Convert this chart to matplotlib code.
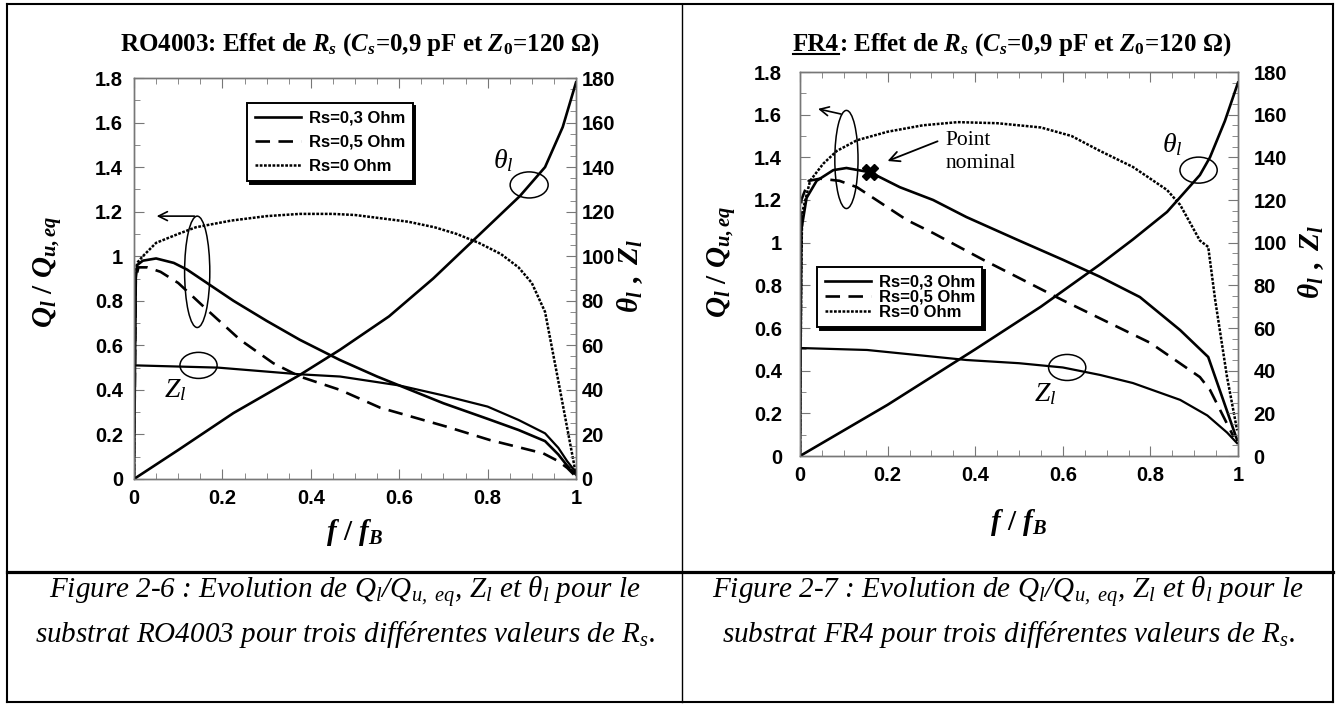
import matplotlib
matplotlib.use('Agg')
import matplotlib.pyplot as plt
from matplotlib.patches import Ellipse
from matplotlib.lines import Line2D
from matplotlib.ticker import MultipleLocator, FuncFormatter

plt.rcParams['font.family'] = ['Liberation Sans', 'DejaVu Sans']
plt.rcParams['font.weight'] = 'bold'
plt.rcParams['mathtext.fontset'] = 'custom'
plt.rcParams['mathtext.rm'] = 'Liberation Serif:weight=bold'
plt.rcParams['mathtext.it'] = 'Liberation Serif:italic:weight=bold'
plt.rcParams['mathtext.bf'] = 'Liberation Serif:weight=bold'
plt.rcParams['mathtext.sf'] = 'Liberation Serif:italic:weight=normal'

# ---------------- data : RO4003 (left) ----------------
L_x03 = [0, 0.004, 0.007, 0.02, 0.05, 0.09, 0.12, 0.165, 0.225, 0.3, 0.375, 0.466, 0.55, 0.6, 0.7, 0.8, 0.87, 0.93, 0.96, 0.98, 1.0]
L_q03 = [0, 0.9, 0.96, 0.98, 0.99, 0.97, 0.94, 0.88, 0.80, 0.71, 0.625, 0.534, 0.46, 0.42, 0.34, 0.27, 0.22, 0.17, 0.11, 0.06, 0.02]
L_x05 = [0, 0.004, 0.01, 0.03, 0.06, 0.1, 0.165, 0.24, 0.315, 0.375, 0.466, 0.557, 0.707, 0.805, 0.926, 0.96, 0.98, 0.995]
L_q05 = [0, 0.9, 0.95, 0.95, 0.93, 0.88, 0.76, 0.625, 0.52, 0.46, 0.40, 0.32, 0.235, 0.175, 0.115, 0.08, 0.05, 0.02]
L_x0 = [0, 0.003, 0.007, 0.02, 0.05, 0.1, 0.14, 0.22, 0.3, 0.375, 0.45, 0.5, 0.56, 0.62, 0.68, 0.73, 0.78, 0.83, 0.87, 0.9, 0.93, 0.96, 0.98, 1.0]
L_q0 = [0, 0.9, 0.97, 1.0, 1.06, 1.1, 1.13, 1.16, 1.18, 1.19, 1.19, 1.185, 1.17, 1.155, 1.13, 1.1, 1.06, 1.01, 0.95, 0.88, 0.75, 0.44, 0.23, 0.02]
L_xth = [0, 0.1, 0.225, 0.375, 0.466, 0.577, 0.677, 0.783, 0.873, 0.93, 0.97, 1.0]
L_th = [0, 13, 29.6, 46.7, 58, 73, 90, 110, 127, 140, 158, 178]
L_xz = [0.003, 0.19, 0.375, 0.466, 0.6, 0.7, 0.8, 0.87, 0.93, 0.96, 0.98, 1.0]
L_z = [51, 50, 47, 46, 42, 37.5, 32.5, 26.5, 20.5, 14, 8, 3]

# ---------------- data : FR4 (right) ----------------
R_x03 = [0, 0.003, 0.015, 0.038, 0.076, 0.106, 0.16, 0.228, 0.304, 0.38, 0.5, 0.6, 0.685, 0.776, 0.868, 0.932, 0.998]
R_q03 = [0, 1.06, 1.21, 1.29, 1.34, 1.35, 1.33, 1.26, 1.20, 1.12, 1.01, 0.92, 0.84, 0.745, 0.59, 0.464, 0.075]
R_x05 = [0, 0.003, 0.02, 0.046, 0.09, 0.13, 0.167, 0.244, 0.304, 0.418, 0.495, 0.6, 0.70, 0.80, 0.913, 0.936, 0.99]
R_q05 = [0, 1.2, 1.29, 1.30, 1.29, 1.26, 1.21, 1.106, 1.045, 0.92, 0.84, 0.73, 0.63, 0.53, 0.37, 0.31, 0.09]
R_x0 = [0, 0.003, 0.005, 0.023, 0.053, 0.084, 0.13, 0.2, 0.28, 0.36, 0.45, 0.55, 0.62, 0.685, 0.76, 0.838, 0.868, 0.913, 0.932, 0.948, 0.975, 0.998]
R_q0 = [0, 0.9, 1.14, 1.29, 1.37, 1.43, 1.48, 1.52, 1.55, 1.565, 1.56, 1.54, 1.5, 1.43, 1.355, 1.247, 1.177, 1.01, 0.98, 0.73, 0.37, 0.12]
R_xth = [0, 0.2, 0.4, 0.55, 0.685, 0.76, 0.838, 0.913, 0.936, 0.97, 1.0]
R_th = [0, 24, 50, 70, 89.8, 101.5, 114.4, 131.7, 140, 157, 175]
R_xz = [0.003, 0.153, 0.38, 0.5, 0.6, 0.685, 0.76, 0.868, 0.93, 0.975, 0.998]
R_z = [50.6, 49.7, 45, 43.5, 41.5, 38, 34.2, 26.3, 19, 11, 6]
R_nominal = (0.16, 1.33)

legend_labels = ['Rs=0,3 Ohm', 'Rs=0,5 Ohm', 'Rs=0 Ohm']

W, H = 1338, 704
fig = plt.figure(figsize=(W / 100, H / 100), dpi=100)


def pxbox(x0, y0, x1, y1):
    return [x0 / W, 1 - y1 / H, (x1 - x0) / W, (y1 - y0) / H]


LW = 1.9
DASH = (0, (5.5, 3.2))
DOT = (0, (1.1, 0.6))
GRAY = '#777777'
TICKSIZE = 14.5
fmt = FuncFormatter(lambda v, p: f'{v:g}')


def panel(box, x03, q03, x05, q05, x0, q0, xth, th, xz, z, leg_anchor, leg_spacing, lpad, rpad):
    ax = fig.add_axes(pxbox(*box))
    ax.set_xlim(0, 1)
    ax.set_ylim(0, 1.8)
    ax2 = ax.twinx()
    ax2.set_ylim(0, 180)
    ax.xaxis.set_major_locator(MultipleLocator(0.2))
    ax.xaxis.set_minor_locator(MultipleLocator(0.05))
    ax.yaxis.set_major_locator(MultipleLocator(0.2))
    ax.yaxis.set_minor_locator(MultipleLocator(0.1))
    ax2.yaxis.set_major_locator(MultipleLocator(20))
    ax2.yaxis.set_minor_locator(MultipleLocator(5))
    ax.xaxis.set_major_formatter(fmt)
    ax.yaxis.set_major_formatter(fmt)
    ax2.yaxis.set_major_formatter(fmt)
    ax.tick_params(which='both', direction='in', top=True, right=False, color=GRAY,
                   labelsize=TICKSIZE, labelcolor='k')
    ax.tick_params(axis='y', pad=lpad)
    ax.tick_params(axis='x', pad=7)
    ax2.tick_params(which='both', direction='in', color=GRAY, labelsize=TICKSIZE,
                    labelcolor='k', pad=rpad)
    for a in (ax, ax2):
        a.tick_params(which='major', length=7)
        a.tick_params(which='minor', length=4)
        for s in a.spines.values():
            s.set_color(GRAY)
            s.set_linewidth(1.0)
    ax.plot(x03, q03, color='k', lw=LW)
    ax.plot(x05, q05, color='k', lw=LW, ls=DASH)
    ax.plot(x0, q0, color='k', lw=1.8, ls=DOT)
    ax2.plot(xth, th, color='k', lw=LW)
    ax2.plot(xz, z, color='k', lw=1.6)
    handles = [Line2D([], [], color='k', lw=LW),
               Line2D([], [], color='k', lw=LW, ls=DASH),
               Line2D([], [], color='k', lw=1.8, ls=DOT)]
    leg = ax2.legend(handles, legend_labels, loc='upper left', bbox_to_anchor=leg_anchor,
                     borderaxespad=0, fancybox=False, edgecolor='k', framealpha=1,
                     shadow={'color': 'k', 'alpha': 1},
                     prop=dict(family='Liberation Sans', weight='bold', size=12),
                     handlelength=2.8, handletextpad=0.45, labelspacing=leg_spacing,
                     borderpad=0.45)
    leg.get_frame().set_linewidth(1.4)
    return ax, ax2


ital = dict(family='Liberation Serif', style='italic', weight='normal')

# ---- left panel ----
axL, axL2 = panel((134, 78, 576, 479), L_x03, L_q03, L_x05, L_q05, L_x0, L_q0,
                  L_xth, L_th, L_xz, L_z, (0.256, 0.938), 0.55, 8, 4)
axL.add_patch(Ellipse((0.143, 0.93), 0.057, 0.5, fill=False, ec='k', lw=1.1))
axL.annotate('', xy=(0.045, 1.18), xytext=(0.143, 1.18),
             arrowprops=dict(arrowstyle='->', color='k', lw=1.2, mutation_scale=16))
axL.add_patch(Ellipse((0.146, 0.51), 0.084, 0.117, fill=False, ec='k', lw=1.1))
axL.text(0.093, 0.40, r'Z$_{\mathsf{l}}$', ha='center', va='center', size=20, **ital)
axL.add_patch(Ellipse((0.894, 1.32), 0.086, 0.117, fill=False, ec='k', lw=1.1))
axL.text(0.835, 1.43, r'θ$_{\mathsf{l}}$', ha='center', va='center', size=20, **ital)

# ---- right panel ----
axR, axR2 = panel((800, 72, 1238, 456), R_x03, R_q03, R_x05, R_q05, R_x0, R_q0,
                  R_xth, R_th, R_xz, R_z, (0.039, 0.492), 0.0, 13, 11)
axR.plot(*R_nominal, marker='X', ms=11, color='k', mec='k')
axR.annotate('', xy=(0.194, 1.378), xytext=(0.32, 1.48),
             arrowprops=dict(arrowstyle='->', color='k', lw=1.3, mutation_scale=18))
axR.text(0.333, 1.477, 'Point', ha='left', va='center', family='Liberation Serif',
         weight='normal', size=15.5)
axR.text(0.333, 1.369, 'nominal', ha='left', va='center', family='Liberation Serif',
         weight='normal', size=15.5)
axR.add_patch(Ellipse((0.106, 1.39), 0.053, 0.46, fill=False, ec='k', lw=1.1))
axR.annotate('', xy=(0.035, 1.63), xytext=(0.1, 1.6),
             arrowprops=dict(arrowstyle='->', color='k', lw=1.2, mutation_scale=16))
axR.add_patch(Ellipse((0.61, 0.415), 0.085, 0.122, fill=False, ec='k', lw=1.1))
axR.text(0.56, 0.29, r'Z$_{\mathsf{l}}$', ha='center', va='center', size=20, **ital)
axR.add_patch(Ellipse((0.91, 1.34), 0.085, 0.122, fill=False, ec='k', lw=1.1))
axR.text(0.85, 1.46, r'θ$_{\mathsf{l}}$', ha='center', va='center', size=20, **ital)

# ---- axis labels ----
LBL = 21
fig.text(47 / W, 1 - 272 / H, r'$Q_l\ /\ Q_{u,eq}$', rotation=90, ha='center', va='center', size=LBL)
fig.text(630 / W, 1 - 276 / H, r'$\theta_l\ ,\ Z_l$', rotation=90, ha='center', va='center', size=LBL)
fig.text(355 / W, 1 - 533 / H, r'$f\ /\ f_B$', ha='center', va='center', size=LBL)
fig.text(722 / W, 1 - 262 / H, r'$Q_l\ /\ Q_{u,eq}$', rotation=90, ha='center', va='center', size=LBL)
fig.text(1311 / W, 1 - 262 / H, r'$\theta_l\ ,\ Z_l$', rotation=90, ha='center', va='center', size=LBL)
fig.text(1019 / W, 1 - 523 / H, r'$f\ /\ f_B$', ha='center', va='center', size=LBL)

# ---- titles ----
tprops = dict(family='Liberation Serif', weight='bold', size=18)
fig.text(360 / W, 1 - 51 / H, r'RO4003: Effet de $R_s$ ($C_s$=0,9 pF et $Z_0$=120 Ω)',
         ha='center', va='baseline', **tprops)
fig.canvas.draw()
rend = fig.canvas.get_renderer()
p1 = 'FR4'
p2 = r': Effet de $R_s$ ($C_s$=0,9 pF et $Z_0$=120 Ω)'
t1 = fig.text(0, 0, p1, **tprops)
t2 = fig.text(0, 0, p2, **tprops)
w1 = t1.get_window_extent(rend).width
w2 = t2.get_window_extent(rend).width
t1.remove()
t2.remove()
xs = 1012 - (w1 + w2) / 2
fig.text(xs / W, 1 - 51 / H, p1, ha='left', va='baseline', **tprops)
fig.text((xs + w1) / W, 1 - 51 / H, p2, ha='left', va='baseline', **tprops)
fig.add_artist(Line2D([xs / W, (xs + w1) / W], [1 - 54 / H, 1 - 54 / H], color='k', lw=1.5))

# ---- captions ----
cap = dict(ha='center', va='center', size=21, **ital)
fig.text(345 / W, 1 - 592 / H,
         r'Figure 2-6 : Evolution de Q$_{\mathsf{l}}$/Q$_{\mathsf{u,\ eq}}$, Z$_{\mathsf{l}}$ et θ$_{\mathsf{l}}$ pour le', **cap)
fig.text(345 / W, 1 - 634 / H,
         r'substrat RO4003 pour trois différentes valeurs de R$_{\mathsf{s}}$.', **cap)
fig.text(1008 / W, 1 - 592 / H,
         r'Figure 2-7 : Evolution de Q$_{\mathsf{l}}$/Q$_{\mathsf{u,\ eq}}$, Z$_{\mathsf{l}}$ et θ$_{\mathsf{l}}$ pour le', **cap)
fig.text(1008 / W, 1 - 634 / H,
         r'substrat FR4 pour trois différentes valeurs de R$_{\mathsf{s}}$.', **cap)


# ---- table borders ----
def line(xa, ya, xb, yb, lw):
    fig.add_artist(Line2D([xa / W, xb / W], [1 - ya / H, 1 - yb / H], color='k', lw=lw,
                          solid_capstyle='projecting'))


line(7, 4, 1333, 4, 1.5)
line(7, 702, 1333, 702, 1.5)
line(7, 4, 7, 702, 1.5)
line(1333, 4, 1333, 702, 1.5)
line(682, 4, 682, 702, 1.0)
line(7, 572, 1333, 572, 2.3)

fig.savefig('out.png', dpi=100)
